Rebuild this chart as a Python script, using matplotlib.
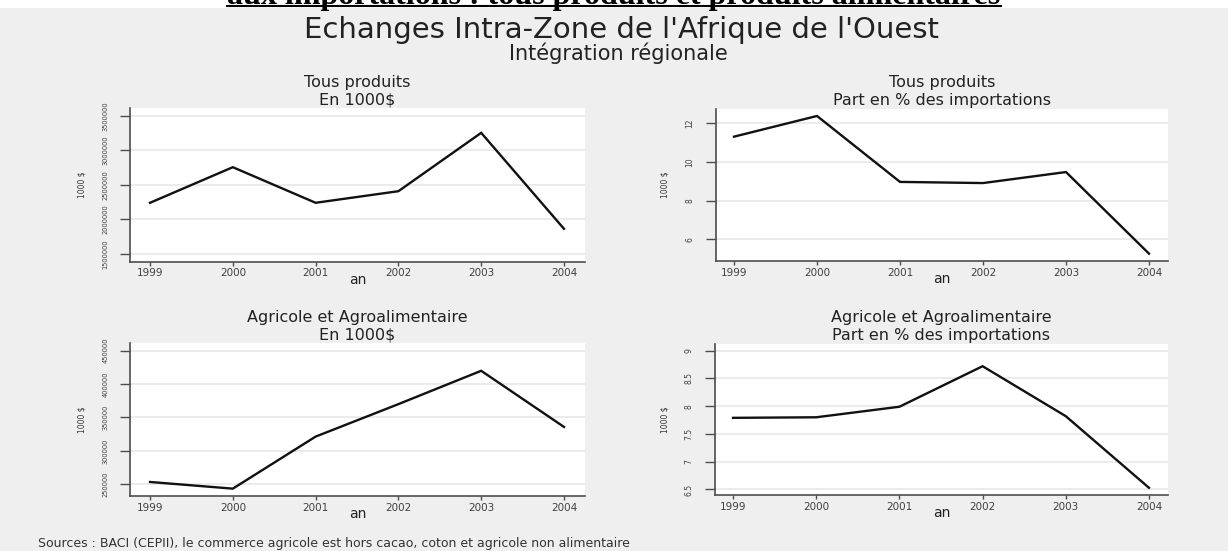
import matplotlib
matplotlib.use("Agg")
import matplotlib.pyplot as plt
from matplotlib.patches import Rectangle
from matplotlib.lines import Line2D
from matplotlib import font_manager

# ---------------- data ----------------
years = [1999, 2000, 2001, 2002, 2003, 2004]
tous_valeur = [2242000, 2758000, 2242000, 2410000, 3256000, 1865000]
tous_part = [11.31, 12.38, 8.97, 8.91, 9.48, 5.26]
agri_valeur = [253500, 243500, 321400, 370000, 419900, 335900]
agri_part = [7.79, 7.80, 7.99, 8.72, 7.82, 6.53]

yticks_tv = [1500000, 2000000, 2500000, 3000000, 3500000]
yticks_tp = [6, 8, 10, 12]
yticks_av = [250000, 300000, 350000, 400000, 450000]
yticks_ap = [6.5, 7, 7.5, 8, 8.5, 9]
ytick_labels_ap = ["6.5", "7", "7.5", "8", "8.5", "9"]

header = "aux importations : tous produits et produits alimentaires"
title = "Echanges Intra-Zone de l'Afrique de l'Ouest"
subtitle = "Intégration régionale"
panel_titles = [("Tous produits", "En 1000$"),
                ("Tous produits", "Part en % des importations"),
                ("Agricole et Agroalimentaire", "En 1000$"),
                ("Agricole et Agroalimentaire", "Part en % des importations")]
xlabel = "an"
ylabel = "1000 $"
source = ("Sources : BACI (CEPII), le commerce agricole est hors cacao, "
          "coton et agricole non alimentaire")

# ---------------- fonts ----------------
names = {f.name for f in font_manager.fontManager.ttflist}
if "Liberation Sans Narrow" in names:
    narrow = ["Liberation Sans Narrow", "DejaVu Sans"]
    big_tick_fs = 6.3
    small_tick_fs = 6.5
    ylab_fs = 7
else:
    narrow = ["DejaVu Sans"]
    big_tick_fs = 4.8
    small_tick_fs = 5.5
    ylab_fs = 5.5

# ---------------- layout ----------------
W, H = 1228, 551
fig = plt.figure(figsize=(W / 100, H / 100), dpi=100, facecolor="white")

def fx(x):
    return x / W

def fy(y):
    return 1 - y / H

BG = "#efefef"
fig.patches.append(Rectangle((0, 0), 1, fy(8), transform=fig.transFigure,
                             facecolor=BG, edgecolor="none", zorder=-10))

SPINE = "#4d4d4d"

def make_ax(l, r, t, b):
    return fig.add_axes([fx(l), fy(b), fx(r) - fx(l), fy(t) - fy(b)])

specs = [
    ((130, 585, 108, 261.5), tous_valeur, yticks_tv, [str(v) for v in yticks_tv],
     (1391000, 3616000), (1998.758, 2004.254), big_tick_fs),
    ((716, 1168, 109, 261), tous_part, yticks_tp, [str(v) for v in yticks_tp],
     (4.88, 12.74), (1998.783, 2004.229), small_tick_fs),
    ((130, 585, 343, 496), agri_valeur, yticks_av, [str(v) for v in yticks_av],
     (232500, 461500), (1998.758, 2004.254), big_tick_fs),
    ((715, 1168, 344, 495), agri_part, yticks_ap, ytick_labels_ap,
     (6.40, 9.12), (1998.783, 2004.229), small_tick_fs),
]

for i, (rect, vals, yt, ytl, ylim, xlim, yfs) in enumerate(specs):
    ax = make_ax(*rect)
    ax.set_facecolor("white")
    ax.plot(years, vals, color="#111111", lw=1.7, solid_joinstyle="miter", zorder=3)
    ax.set_xlim(*xlim)
    ax.set_ylim(*ylim)
    ax.set_xticks(years)
    ax.set_xticklabels([str(y) for y in years], fontsize=7.5, color="#404040")
    ax.set_yticks(yt)
    ax.set_yticklabels(ytl, fontsize=yfs, color="#404040", rotation=90,
                       va="center", family=narrow)
    for s in ("top", "right"):
        ax.spines[s].set_visible(False)
    for s in ("left", "bottom"):
        ax.spines[s].set_color(SPINE)
        ax.spines[s].set_linewidth(1.2)
    ax.tick_params(axis="x", direction="out", length=3, width=1.0, color=SPINE, pad=2)
    ax.tick_params(axis="y", direction="out", length=7, width=1.0, color=SPINE, pad=8.5)
    ax.grid(axis="y", color="#e6e6e6", lw=1.1)
    ax.set_axisbelow(True)

    l, r, t, b = rect
    hpx = b - t
    wpx = r - l
    ax.text(0.5, -(280 - 261.5) / hpx if i < 2 else -(514 - 496) / hpx, xlabel,
            transform=ax.transAxes, ha="center", va="center", fontsize=10,
            color="#222222")
    ylx = 82 if r < 600 else 665
    ax.text((ylx - l) / wpx, 0.5, ylabel, transform=ax.transAxes, rotation=90,
            ha="center", va="center", fontsize=ylab_fs, color="#333333", family=narrow)

    cx = (l + r) / 2
    t1, t2 = panel_titles[i]
    y1, y2 = (82.5, 100) if i < 2 else (317.5, 335.5)
    fig.text(fx(cx), fy(y1), t1, ha="center", va="center", fontsize=11.5, color="#222222")
    fig.text(fx(cx), fy(y2), t2, ha="center", va="center", fontsize=11.5, color="#222222")

fig.text(fx(622), fy(30), title, ha="center", va="center", fontsize=21, color="#222222")
fig.text(fx(618), fy(53), subtitle, ha="center", va="center", fontsize=15, color="#222222")
fig.text(fx(38), fy(544), source, ha="left", va="center", fontsize=9, color="#333333")

hdr = fig.text(fx(614), fy(4), header, ha="center", va="baseline", fontsize=23,
               fontweight="bold", family=["Liberation Serif", "DejaVu Serif"],
               color="black")
fig.canvas.draw()
bb = hdr.get_window_extent()
fig.add_artist(Line2D([bb.x0 / W, bb.x1 / W], [fy(6), fy(6)],
                      transform=fig.transFigure, color="black", lw=1.5))

fig.savefig("out.png", dpi=100, facecolor="white")
